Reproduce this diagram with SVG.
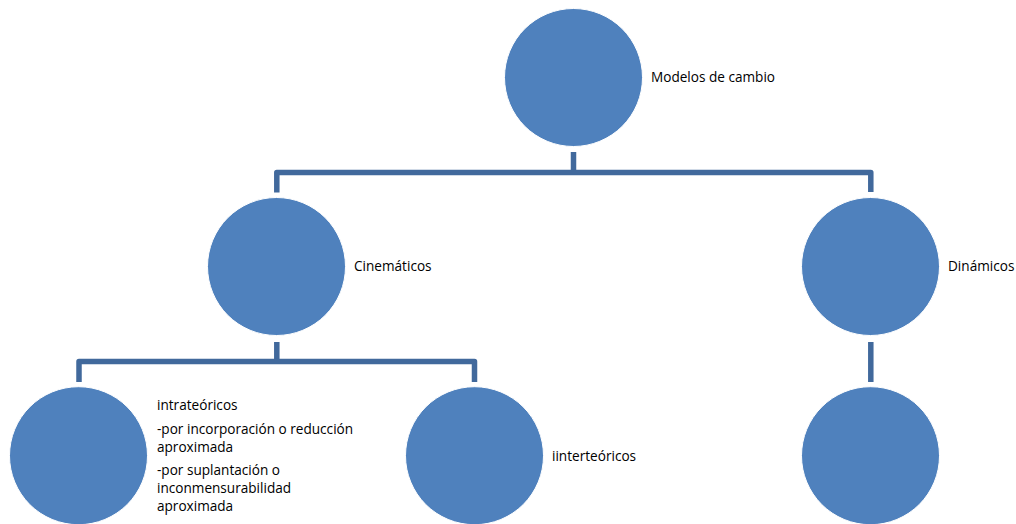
<svg xmlns="http://www.w3.org/2000/svg" width="1016" height="524" viewBox="0 0 1016 524">
<style>
.node circle{fill:#4F81BD;stroke:#ffffff;stroke-width:1}
.conn path{fill:none;stroke:#41699C;stroke-width:5.5;stroke-linejoin:round}
text{font-family:"Open Sans","Noto Sans",sans-serif;font-size:13.6px;fill:#000}
</style>
<rect width="1016" height="524" fill="#ffffff"/>
<g class="conn">
<path d="M573.5,152 V172.5"/>
<path d="M276.8,192.5 V172.5 H870.8 V192"/>
<path d="M276.8,342 V361.5"/>
<path d="M79,382 V361.5 H474.5 V382"/>
<path d="M870.8,342 V382"/>
</g>
<g id="n-modelos" class="node"><circle cx="573.5" cy="77.5" r="69"/><text x="651" y="82">Modelos de cambio</text></g>
<g id="n-cinematicos" class="node"><circle cx="276.5" cy="266.5" r="69"/><text x="354" y="271">Cinemáticos</text></g>
<g id="n-dinamicos" class="node"><circle cx="870.5" cy="266.5" r="69"/><text x="948" y="271">Dinámicos</text></g>
<g id="n-intra" class="node"><circle cx="78.5" cy="455.7" r="69"/>
<text x="157" y="409.5">intrateóricos</text>
<text x="157" y="434">-por incorporación o reducción</text>
<text x="157" y="452">aproximada</text>
<text x="157" y="475">-por suplantación o</text>
<text x="157" y="493">inconmensurabilidad</text>
<text x="157" y="510.5">aproximada</text>
</g>
<g id="n-inter" class="node"><circle cx="474.5" cy="455.7" r="69"/><text x="552" y="461">iinterteóricos</text></g>
<g id="n-dyn-child" class="node"><circle cx="870.5" cy="455.7" r="69"/></g>
</svg>
